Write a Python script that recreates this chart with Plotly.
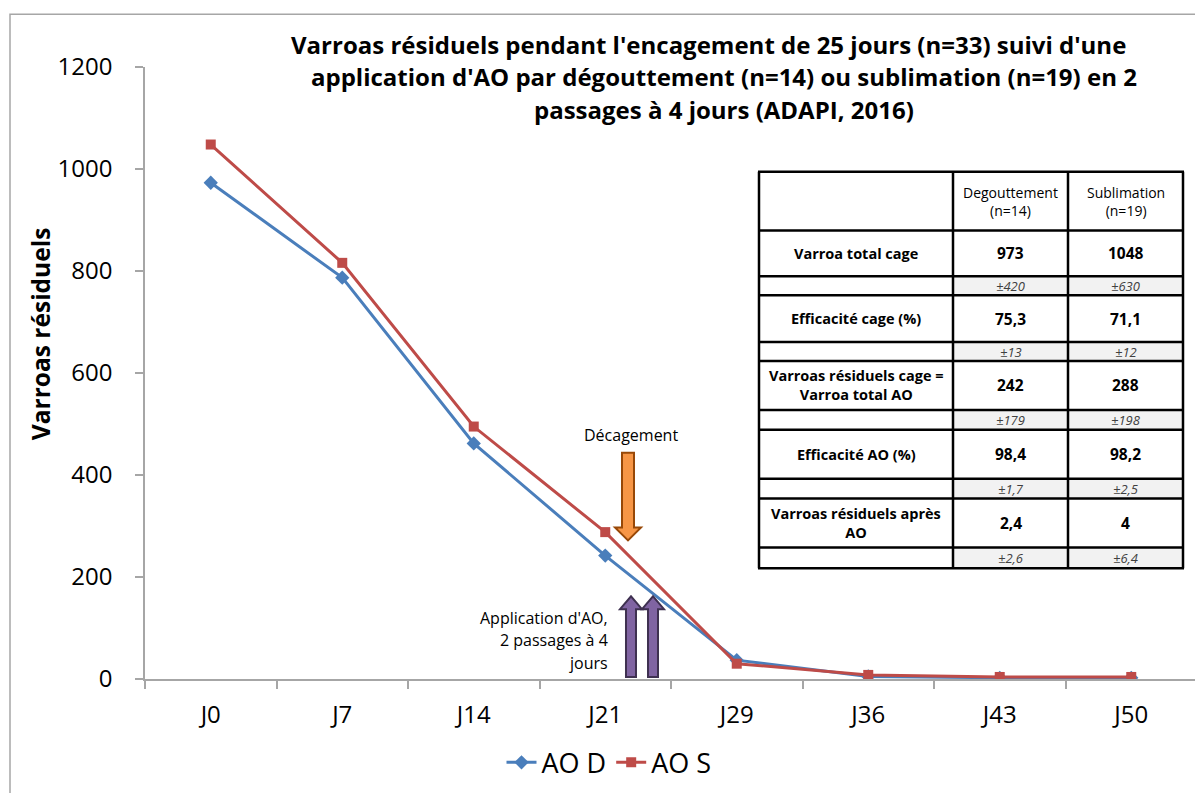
import plotly.graph_objects as go

# ---------------- data ----------------
days = ["J0", "J7", "J14", "J21", "J29", "J36", "J43", "J50"]
ao_d = [973, 787, 462, 242, 37, 5, 2.4, 2.4]
ao_s = [1048, 816, 495, 288, 30, 8, 4, 4]

table_cols = ["Degouttement<br>(n=14)", "Sublimation<br>(n=19)"]
table_labels = ["Varroa total cage", "Efficacité cage (%)",
                "Varroas résiduels cage =<br>Varroa total AO",
                "Efficacité AO (%)", "Varroas résiduels après<br>AO"]
table_d = ["973", "75,3", "242", "98,4", "2,4"]
table_s = ["1048", "71,1", "288", "98,2", "4"]
table_d_sd = ["±420", "±13", "±179", "±1,7", "±2,6"]
table_s_sd = ["±630", "±12", "±198", "±2,5", "±6,4"]

title_lines = [
    "Varroas résiduels pendant l'encagement de 25 jours (n=33) suivi d'une",
    "application d'AO par dégouttement (n=14) ou sublimation (n=19) en 2",
    "passages à 4 jours (ADAPI, 2016)",
]

FONT = "'Open Sans', sans-serif"
BLUE = "#4a7ebb"
RED = "#be4b48"

# page body has an 8px margin: figure is offset by it and reaches the window edges
OFF = 8
W, H = 1203 - OFF, 793 - OFF
# plot-area edges in screen pixels
PL, PR, PT, PB = 145, 1197, 67, 681


def px(x):
    return (x - PL) / (PR - PL)


def py(y):
    return (PB - y) / (PB - PT)


fig = go.Figure()
fig.add_trace(go.Scatter(x=days, y=ao_d, name="AO D", mode="lines+markers",
                         line=dict(color=BLUE, width=3),
                         marker=dict(symbol="diamond", size=11, color=BLUE)))
fig.add_trace(go.Scatter(x=days, y=ao_s, name="AO S", mode="lines+markers",
                         line=dict(color=RED, width=3),
                         marker=dict(symbol="square", size=10, color=RED)))

shapes = []
annotations = []

# outer frame
shapes.append(dict(type="rect", xref="paper", yref="paper",
                   x0=px(10), y0=py(14), x1=px(1215), y1=py(805),
                   line=dict(color="#a6a6a6", width=1.5), layer="below"))

# title
for line, cx, cy in zip(title_lines, [708, 724, 724], [44, 77, 110]):
    annotations.append(dict(text="<b>" + line + "</b>", xref="paper", yref="paper",
                            x=px(cx), y=py(cy), xanchor="center", yanchor="middle",
                            showarrow=False, font=dict(size=24, color="black", family=FONT)))

# y axis title
annotations.append(dict(text="<b>Varroas résiduels</b>", xref="paper", yref="paper",
                        x=px(40), y=py(335), textangle=-90, showarrow=False,
                        xanchor="center", yanchor="middle",
                        font=dict(size=24.5, color="black", family=FONT)))


def block_arrow(cx, y_tail, y_head_base, y_tip, shaft_hw, head_hw):
    pts = [(cx - shaft_hw, y_tail), (cx + shaft_hw, y_tail), (cx + shaft_hw, y_head_base),
           (cx + head_hw, y_head_base), (cx, y_tip), (cx - head_hw, y_head_base),
           (cx - shaft_hw, y_head_base)]
    d = "M " + " L ".join(f"{px(x):.5f},{py(y):.5f}" for x, y in pts) + " Z"
    return d


# Décagement arrow (orange, down)
shapes.append(dict(type="path", xref="paper", yref="paper",
                   path=block_arrow(628, 454, 529, 542, 6, 13),
                   fillcolor="#f79646", line=dict(color="#984807", width=2)))
annotations.append(dict(text="Décagement", xref="paper", yref="paper", x=px(631), y=py(436),
                        showarrow=False, xanchor="center", yanchor="middle",
                        font=dict(size=16, color="black", family=FONT)))
# Application arrows (purple, up)
for cx in [631, 653]:
    shapes.append(dict(type="path", xref="paper", yref="paper",
                       path=block_arrow(cx, 679, 611, 598, 5, 11),
                       fillcolor="#8064a2", line=dict(color="#3f3151", width=2)))
for txt, cy in zip(["Application d'AO,", "2 passages à 4", "jours"], [620, 642, 665]):
    annotations.append(dict(text=txt, xref="paper", yref="paper", x=px(610), y=py(cy),
                            showarrow=False, xanchor="right", yanchor="middle",
                            font=dict(size=16, color="black", family=FONT)))

# ---------------- table ----------------
col_edges = [759, 953, 1068, 1183]
row_edges = [172, 231, 277, 296, 343, 362, 411, 431, 480, 500, 549, 570]

shapes.append(dict(type="rect", xref="paper", yref="paper",
                   x0=px(col_edges[0]), x1=px(col_edges[-1]),
                   y0=py(row_edges[0]), y1=py(row_edges[-1]),
                   fillcolor="white", line=dict(width=0)))
# grey sub-rows
for i in range(5):
    r0, r1 = row_edges[2 + 2 * i], row_edges[3 + 2 * i]
    shapes.append(dict(type="rect", xref="paper", yref="paper",
                       x0=px(col_edges[1]), x1=px(col_edges[3]), y0=py(r0), y1=py(r1),
                       fillcolor="#f2f2f2", line=dict(width=0)))
for ry in row_edges:
    shapes.append(dict(type="line", xref="paper", yref="paper",
                       x0=px(col_edges[0] - 1), x1=px(col_edges[-1] + 1),
                       y0=py(ry), y1=py(ry),
                       line=dict(color="black", width=2.5)))
for cxe in col_edges:
    shapes.append(dict(type="line", xref="paper", yref="paper",
                       x0=px(cxe), x1=px(cxe), y0=py(row_edges[0]), y1=py(row_edges[-1]),
                       line=dict(color="black", width=2.5)))

col_centers = [(col_edges[i] + col_edges[i + 1]) / 2 for i in range(3)]
# header
for j, txt in enumerate(table_cols):
    annotations.append(dict(text=txt, xref="paper", yref="paper",
                            x=px(col_centers[j + 1]), y=py((row_edges[0] + row_edges[1]) / 2),
                            showarrow=False, xanchor="center", yanchor="middle",
                            font=dict(size=14, color="black", family=FONT)))
for i in range(5):
    ym = (row_edges[1 + 2 * i] + row_edges[2 + 2 * i]) / 2
    ys = (row_edges[2 + 2 * i] + row_edges[3 + 2 * i]) / 2
    for j, txt in enumerate([table_labels[i], table_d[i], table_s[i]]):
        annotations.append(dict(text="<b>" + txt + "</b>", xref="paper", yref="paper",
                                x=px(col_centers[j]), y=py(ym), showarrow=False,
                                xanchor="center", yanchor="middle",
                                font=dict(size=14.5 if j == 0 else 15.5, color="black", family=FONT)))
    for j, txt in enumerate([table_d_sd[i], table_s_sd[i]]):
        annotations.append(dict(text="<i>" + txt + "</i>", xref="paper", yref="paper",
                                x=px(col_centers[j + 1]), y=py(ys), showarrow=False,
                                xanchor="center", yanchor="middle",
                                font=dict(size=13, color="#404040", family=FONT)))

fig.update_layout(
    width=W, height=H,
    margin=dict(l=PL - OFF, r=W - (PR - OFF), t=PT - OFF, b=H - (PB - OFF), pad=0),
    paper_bgcolor="white", plot_bgcolor="white",
    font=dict(family=FONT, color="black"),
    shapes=shapes, annotations=annotations,
    showlegend=True,
    legend=dict(orientation="h", x=px(609), y=py(765), xanchor="center", yanchor="middle",
                font=dict(size=27, family=FONT, color="black"), itemwidth=30,
                bgcolor="rgba(0,0,0,0)"),
)
fig.update_xaxes(type="category", range=[-0.5, 7.5], showgrid=False, showline=True,
                 linecolor="#a6a6a6", linewidth=2, ticks="outside", tickson="boundaries",
                 ticklen=8, tickcolor="#a6a6a6", tickwidth=2,
                 tickfont=dict(size=24, family=FONT, color="black"), ticklabelstandoff=13,
                 zeroline=False)
fig.update_yaxes(range=[0, 1200], dtick=200, showgrid=False, showline=True,
                 linecolor="#a6a6a6", linewidth=1.5, ticks="outside", ticklen=8,
                 tickcolor="#a6a6a6", tickwidth=1.5,
                 tickfont=dict(size=24, family=FONT, color="black"), ticklabelstandoff=18,
                 zeroline=False)

fig.write_html("out.html")
